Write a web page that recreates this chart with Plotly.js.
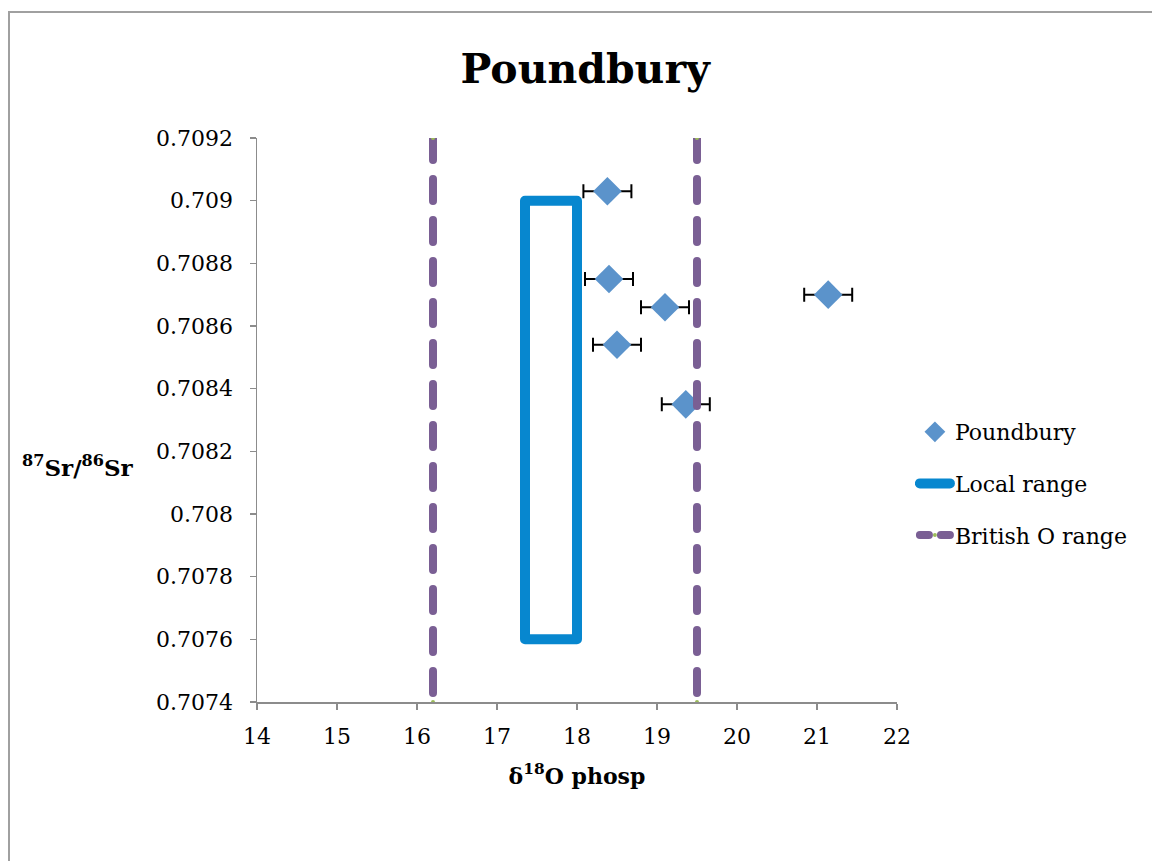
<!DOCTYPE html>
<html>
<head>
<meta charset="utf-8">
<script src="https://cdn.plot.ly/plotly-3.0.1.min.js"></script>
<style>
  html, body { margin: 0; padding: 0; background: #ffffff; overflow: hidden; }
  #frame { position: absolute; left: 8px; top: 11px; width: 1300px; height: 1000px; border: 2px solid #a0a0a0; box-sizing: border-box; }
  #chart { position: absolute; left: 0; top: 0; width: 1152px; height: 861px; }
  #chart path.js-line { stroke-linecap: round; stroke-linejoin: round; }
</style>
</head>
<body>
<div id="frame"></div>
<div id="chart"></div>
<script>
// Poundbury samples
const sampleX = [18.38, 18.40, 19.10, 18.50, 19.36, 21.14];
const sampleY = [0.70903, 0.70875, 0.70866, 0.70854, 0.70835, 0.70870];
const sampleErrX = [0.3, 0.3, 0.3, 0.3, 0.3, 0.3];

// Local range box (closed outline)
const localX = [17.35, 18.0, 18.0, 17.35, 17.35];
const localY = [0.7090, 0.7090, 0.7076, 0.7076, 0.7090];

// British O range limits
const britLowX = [16.2, 16.2];
const britHighX = [19.5, 19.5];
const britY = [0.7092, 0.7074];

// Axis ticks
const xTickVals = [14, 15, 16, 17, 18, 19, 20, 21, 22];
const yTickVals = [0.7074, 0.7076, 0.7078, 0.708, 0.7082, 0.7084, 0.7086, 0.7088, 0.709, 0.7092];
const yTickText = ["0.7074", "0.7076", "0.7078", "0.708", "0.7082", "0.7084", "0.7086", "0.7088", "0.709", "0.7092"];

const FONT = "DejaVu Serif, Liberation Serif, serif";
const purple = "#7a5f94";

const traces = [
  {
    x: sampleX, y: sampleY, type: "scatter", mode: "markers", name: "Poundbury",
    legendgroup: "a",
    marker: { symbol: "diamond", size: 22, color: "#5b93cb" },
    error_x: { type: "data", array: sampleErrX, visible: true, color: "#000000", thickness: 2, width: 7 }
  },
  {
    x: localX, y: localY, type: "scatter", mode: "lines", name: "Local range",
    legendgroup: "b",
    line: { color: "#0787cf", width: 10 }
  },
  {
    x: britLowX, y: britY, type: "scatter", mode: "lines+markers", name: "British O range",
    legendgroup: "c", showlegend: false,
    line: { color: purple, width: 8, dash: "22px,19px" },
    marker: { color: "#9bbb59", size: 4 }
  },
  {
    x: britHighX, y: britY, type: "scatter", mode: "lines+markers", name: "British O range",
    legendgroup: "c", showlegend: false,
    line: { color: purple, width: 8, dash: "22px,19px" },
    marker: { color: "#9bbb59", size: 4 }
  },
  {
    // legend entry only (shorter dash so the key shows the dashed style)
    x: [null], y: [null], type: "scatter", mode: "lines+markers", name: "British O range",
    legendgroup: "c", showlegend: true,
    line: { color: purple, width: 8, dash: "9px,12px" },
    marker: { color: "#9bbb59", size: 4 }
  }
];

const layout = {
  width: 1152, height: 861,
  margin: { l: 257, r: 255, t: 138, b: 159 },
  paper_bgcolor: "rgba(0,0,0,0)",
  plot_bgcolor: "rgba(0,0,0,0)",
  font: { family: FONT, size: 22, color: "#000000" },
  title: { text: "<b>Poundbury</b>", font: { family: FONT, size: 41, color: "#000" }, x: 0.508, xanchor: "center", y: 0.920, yanchor: "middle" },
  showlegend: true,
  legend: {
    x: 1.028, xanchor: "left", y: 0.516, yanchor: "top",
    font: { family: FONT, size: 22 }, traceorder: "grouped", tracegroupgap: 20,
    bgcolor: "rgba(0,0,0,0)"
  },
  xaxis: {
    range: [14, 22], tickvals: xTickVals, showgrid: false, zeroline: false,
    showline: true, linecolor: "#8c8c8c", linewidth: 1.5,
    ticks: "outside", ticklen: 6, tickcolor: "#8c8c8c", tickwidth: 1.5,
    ticklabelstandoff: 8,
    tickfont: { family: FONT, size: 22 },
    title: { text: "<b>δ<sup>18</sup>O phosp</b>", font: { family: FONT, size: 22 }, standoff: 20 }
  },
  yaxis: {
    range: [0.7074, 0.7092], tickvals: yTickVals, ticktext: yTickText, showgrid: false, zeroline: false,
    showline: true, linecolor: "#8c8c8c", linewidth: 1.5,
    ticks: "outside", ticklen: 6, tickcolor: "#8c8c8c", tickwidth: 1.5,
    ticklabelstandoff: 12,
    tickfont: { family: FONT, size: 22 }
  },
  annotations: [
    {
      text: "<b><sup>87</sup>Sr/<sup>86</sup>Sr</b>", xref: "paper", yref: "paper",
      x: -0.28, y: 0.418, xanchor: "center", yanchor: "middle", showarrow: false,
      font: { family: FONT, size: 23 }
    }
  ]
};

Plotly.newPlot("chart", traces, layout, { displayModeBar: false, staticPlot: true });
</script>
</body>
</html>
